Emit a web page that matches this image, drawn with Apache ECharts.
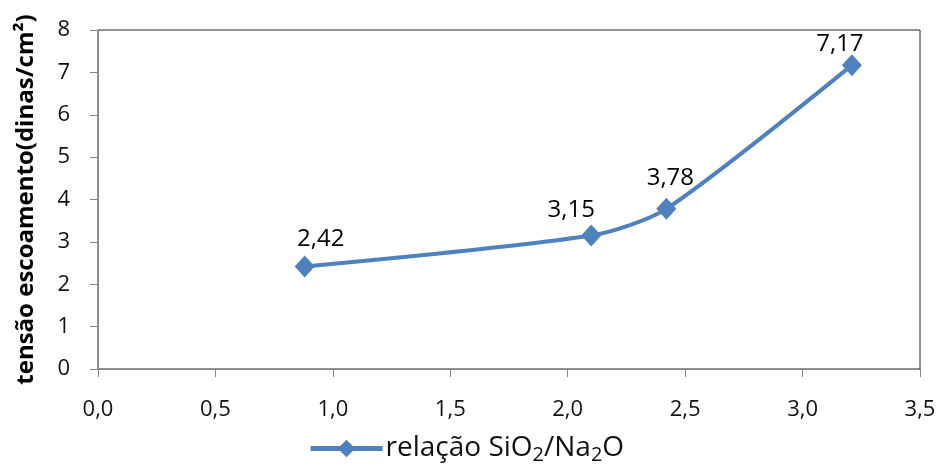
<!DOCTYPE html>
<html>
<head>
<meta charset="utf-8">
<script src="https://cdn.jsdelivr.net/npm/echarts@6/dist/echarts.min.js"></script>
<style>
  html, body { margin: 0; padding: 0; background: #fff; }
  #chart { width: 941px; height: 470px; }
</style>
</head>
<body>
<div id="chart"></div>
<script>
// SiO2/Na2O ratio vs. yield stress
const ratio = [0.88, 2.10, 2.42, 3.21];
const yieldStress = [2.42, 3.15, 3.78, 7.17];
const seriesName = 'relação SiO2/Na2O';
const yAxisTitle = 'tensão escoamento(dinas/cm²)';

const FONT = 'Open Sans';
const BLUE = '#4F81BD';
const INK = '#111';
const fmtComma = (v, d) => v.toFixed(d).replace('.', ',');

// small nudges so the value labels sit where they read best
const labelNudge = [[16, 0], [-20, 2], [4, -4], [-12, 6]];

const chart = echarts.init(document.getElementById('chart'));
chart.setOption({
  animation: false,
  backgroundColor: '#fff',
  textStyle: { fontFamily: FONT },
  grid: {
    left: 98, right: 21, top: 30, bottom: 101,
    show: true, borderColor: '#262626', borderWidth: 1
  },
  xAxis: {
    type: 'value', min: 0, max: 3.5, interval: 0.5,
    axisLine: { show: true, lineStyle: { color: '#868686', width: 1 } },
    axisTick: { show: true, length: 8, inside: false, lineStyle: { color: '#868686' } },
    splitLine: { show: false },
    axisLabel: { color: INK, fontSize: 22, fontFamily: FONT, margin: 30,
      formatter: v => fmtComma(v, 1) }
  },
  yAxis: {
    type: 'value', min: 0, max: 8, interval: 1,
    name: yAxisTitle, nameLocation: 'middle', nameRotate: 90, nameGap: 60,
    nameTextStyle: { color: '#000', fontSize: 24, fontWeight: 'bold', fontFamily: FONT },
    axisLine: { show: true, lineStyle: { color: '#868686', width: 1 } },
    axisTick: { show: true, length: 8, lineStyle: { color: '#868686' } },
    splitLine: { show: false },
    axisLabel: { color: INK, fontSize: 22, fontFamily: FONT, margin: 28 }
  },
  legend: {
    bottom: 5, left: 308, padding: 0,
    itemWidth: 72, itemHeight: 22, itemGap: 4,
    lineStyle: { width: 5 },
    data: [seriesName],
    formatter: () => '{a|relação SiO}{s|2}{a|/Na}{s|2}{a|O}',
    textStyle: {
      padding: [0, 0, 0, -2],
      rich: {
        a: { fontSize: 28, color: INK, fontFamily: FONT },
        s: { fontSize: 20, color: INK, fontFamily: FONT, padding: [13, 0, 0, 0] }
      }
    }
  },
  series: [{
    name: seriesName,
    type: 'line',
    smooth: 0.25,
    data: ratio.map((x, i) => ({
      value: [x, yieldStress[i]],
      label: { offset: labelNudge[i] }
    })),
    symbol: 'diamond',
    symbolSize: [20, 22],
    lineStyle: { color: BLUE, width: 4 },
    itemStyle: { color: BLUE },
    label: {
      show: true, position: 'top', distance: 4,
      color: '#000', fontSize: 24, fontFamily: FONT,
      formatter: p => fmtComma(p.value[1], 2)
    }
  }]
});
</script>
</body>
</html>
